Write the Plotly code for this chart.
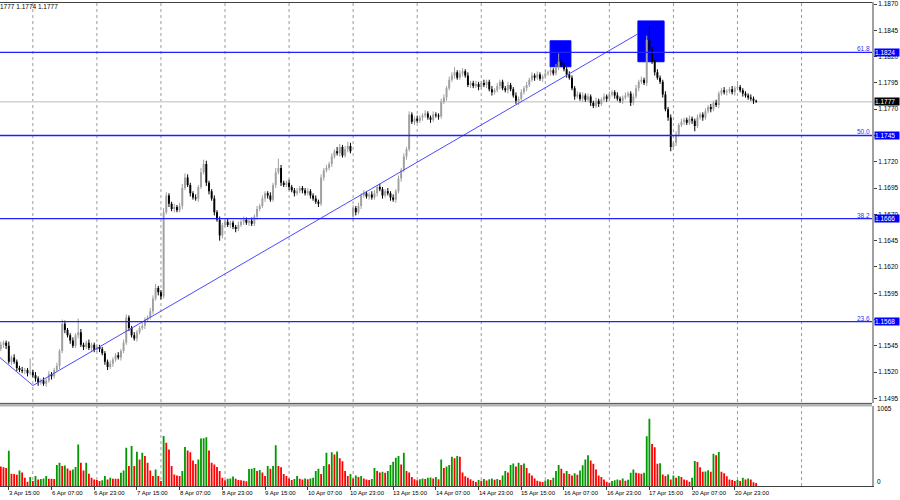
import plotly.graph_objects as go

# ---------------- data ----------------
first_open = 1.1542
closes = [
    1.1546,1.1548,1.1545,1.1530,1.1534,1.1530,1.1524,1.1522,1.1521,1.1522,
    1.1519,1.1520,1.1517,1.1514,1.1510,1.1512,1.1509,1.1512,1.1518,1.1516,
    1.1522,1.1526,1.1540,1.1566,1.1560,1.1555,1.1550,1.1545,1.1555,1.1558,
    1.1546,1.1544,1.1548,1.1543,1.1546,1.1541,1.1544,1.1542,1.1538,1.1530,
    1.1525,1.1528,1.1532,1.1536,1.1534,1.1540,1.1548,1.1572,1.1562,1.1555,
    1.1552,1.1558,1.1562,1.1564,1.1570,1.1572,1.1578,1.1590,1.1600,1.1596,
    1.1592,1.1672,1.1688,1.1680,1.1675,1.1677,1.1674,1.1678,1.1695,1.1705,
    1.1698,1.1690,1.1686,1.1685,1.1696,1.1710,1.1718,1.1700,1.1692,1.1685,
    1.1672,1.1665,1.1650,1.1660,1.1663,1.1660,1.1662,1.1658,1.1656,1.1660,
    1.1663,1.1665,1.1662,1.1664,1.1661,1.1668,1.1675,1.1678,1.1685,1.1690,
    1.1688,1.1684,1.1698,1.1710,1.1714,1.1700,1.1698,1.1700,1.1696,1.1693,
    1.1690,1.1692,1.1695,1.1693,1.1690,1.1692,1.1688,1.1685,1.1682,1.1680,
    1.1705,1.1712,1.1714,1.1718,1.1725,1.1730,1.1728,1.1734,1.1726,1.1732,
    1.1735,1.1730,1.1676,1.1672,1.1678,1.1688,1.1690,1.1687,1.1689,1.1686,
    1.1690,1.1696,1.1694,1.1688,1.1692,1.1690,1.1686,1.1684,1.1692,1.1704,
    1.1712,1.1725,1.1732,1.1765,1.1758,1.1761,1.1759,1.1762,1.1764,1.1766,
    1.1762,1.1760,1.1765,1.1764,1.1763,1.1777,1.1781,1.1790,1.1798,1.1802,
    1.1805,1.1800,1.1804,1.1806,1.1802,1.1793,1.1795,1.1792,1.1794,1.1791,
    1.1795,1.1793,1.1796,1.1789,1.1786,1.1788,1.1792,1.1796,1.1790,1.1788,
    1.1793,1.1789,1.1783,1.1778,1.1780,1.1786,1.1790,1.1793,1.1798,1.1802,
    1.1800,1.1803,1.1799,1.1801,1.1804,1.1805,1.1807,1.1804,1.1810,1.1815,
    1.1812,1.1808,1.1803,1.1800,1.1790,1.1782,1.1784,1.1780,1.1783,1.1779,
    1.1782,1.1776,1.1773,1.1778,1.1775,1.1779,1.1782,1.1780,1.1784,1.1786,
    1.1783,1.1780,1.1778,1.1781,1.1783,1.1785,1.1776,1.1782,1.1790,1.1796,
    1.1798,1.1795,1.1836,1.1826,1.1815,1.1805,1.1800,1.1796,1.1784,1.1770,
    1.1762,1.1734,1.1738,1.1746,1.1755,1.1758,1.1760,1.1757,1.1761,1.1759,
    1.1754,1.1762,1.1765,1.1762,1.1768,1.1772,1.1770,1.1776,1.1774,1.1785,
    1.1788,1.1786,1.1787,1.1789,1.1786,1.1790,1.1791,1.1788,1.1785,1.1783,
    1.1781,1.1780,1.1778,1.1777,
]
gap_opens = {132: 1.1668}
upper_wick_pips = [
    3,2,2,4,2,3,2,2,3,2, 2,13,2,3,2,2,3,2,3,2, 2,3,2,4,3,2,2,3,2,13,
    3,2,2,3,2,2,3,2,2,2, 2,3,2,2,3,2,3,3,2,2, 3,2,2,3,2,2,3,3,4,2,
    2,4,3,2,2,3,2,3,4,4, 3,2,2,3,2,4,4,3,2,2, 3,2,3,2,2,3,2,2,2,3,
    2,3,2,2,3,2,3,2,3,2, 2,3,2,4,9,3,2,2,3,2, 2,3,2,2,2,3,2,2,3,2,
    3,2,3,2,3,2,4,3,2,3, 4,3,3,2,3,2,3,2,2,3, 3,2,3,2,2,3,2,3,2,3,
    2,3,2,3,2,2,3,2,2,3, 2,2,3,2,2,3,3,2,3,3, 5,2,3,3,2,3,2,2,3,2,
    2,3,2,2,3,2,3,2,2,2, 3,2,2,3,2,3,2,3,2,3, 2,3,2,2,3,2,3,2,3,8,
    3,2,2,3,2,2,3,2,3,2, 3,2,2,3,2,2,3,2,3,2, 2,3,2,2,3,2,2,3,3,2,
    3,2,4,14,3,2,3,2,2,3, 2,3,2,3,2,3,2,2,3,2, 2,3,2,2,3,2,3,2,3,2,
    2,3,2,2,3,2,3,2,2,2, 2,3,2,1,
]
lower_wick_pips = [
    2,3,3,2,3,2,3,2,2,3, 3,2,2,3,3,2,2,3,2,3, 2,2,3,2,3,2,3,2,2,3,
    2,3,2,2,3,2,2,3,2,3, 3,2,3,2,2,3,2,2,3,2, 2,3,2,2,3,2,2,3,2,3,
    3,2,2,3,2,3,2,2,3,2, 2,3,2,2,3,2,2,3,3,2, 3,2,5,3,2,2,3,2,3,2,
    2,3,2,3,2,2,3,2,2,3, 3,2,2,3,2,3,2,2,3,2, 3,2,2,3,2,2,3,2,2,3,
    2,3,2,2,3,2,2,3,2,2, 3,2,4,3,2,3,2,2,3,2, 2,3,2,3,2,2,3,2,3,2,
    3,2,3,2,2,3,2,2,3,2, 2,3,2,2,3,2,2,3,2,2, 3,2,2,3,2,2,3,2,2,3,
    2,2,3,2,3,2,2,3,2,2, 3,2,2,3,4,2,2,3,2,2, 3,2,2,3,2,2,3,2,2,3,
    2,2,3,2,2,3,2,2,3,2, 2,3,2,2,3,2,2,3,2,2, 3,2,2,3,2,2,3,2,2,3,
    2,2,3,2,2,3,2,2,3,2, 3,4,2,3,2,2,3,2,2,3, 5,2,2,3,2,2,3,2,2,3,
    2,2,3,2,2,3,2,2,3,2, 2,2,3,1,
]
volumes = [
    260,250,240,470,165,160,150,209,180,111, 58,120,67,133,89,95,100,133,98,96,
    94,280,311,267,275,236,209,222,254,556, 311,209,311,164,111,89,80,67,76,133,
    89,111,98,97,96,178,209,512,267,534, 267,458,356,445,400,311,209,133,222,133,
    67,667,578,489,267,156,142,133,200,520, 476,453,342,294,355,634,640,652,475,310,
    288,253,200,111,76,98,100,129,98,80, 76,70,65,227,230,240,200,213,180,133,
    267,230,267,546,267,250,160,133,100,80, 95,133,98,89,100,90,100,110,200,230,
    160,267,445,290,453,420,460,370,330,200, 133,160,100,140,120,133,100,89,80,95,
    240,200,180,190,177,200,280,324,377,400, 288,445,200,180,120,90,76,90,100,95,
    110,115,100,120,90,355,240,260,280,390, 370,400,390,180,130,110,90,70,55,80,
    70,95,75,90,100,85,95,80,140,200, 180,280,300,260,310,280,300,240,170,140,
    100,70,60,55,75,90,80,110,200,280, 230,170,200,160,140,170,150,209,279,355,
    412,342,297,222,142,120,89,57,44,67, 76,89,76,102,70,85,177,222,177,170,
    165,177,665,900,563,519,297,306,156,133, 156,89,142,110,133,120,89,76,57,110,
    333,320,250,190,195,210,190,430,410,456, 190,170,130,89,80,67,80,67,110,89,
    100,89,50,40,
]
tick_idx = [3, 19, 35, 51, 67, 83, 99, 115, 131, 147, 163, 179, 195, 211, 227, 243, 259, 275]
tick_labels = ["3 Apr 15:00", "6 Apr 07:00", "6 Apr 23:00", "7 Apr 15:00", "8 Apr 07:00",
               "8 Apr 23:00", "9 Apr 15:00", "10 Apr 07:00", "10 Apr 23:00", "13 Apr 15:00",
               "14 Apr 07:00", "14 Apr 23:00", "15 Apr 15:00", "16 Apr 07:00", "16 Apr 23:00",
               "17 Apr 15:00", "20 Apr 07:00", "20 Apr 23:00"]
day_starts = [12, 36, 60, 84, 108, 132, 156, 180, 204, 228, 252, 276, 300]
price_ticks = [1.1495, 1.1520, 1.1545, 1.1570, 1.1595, 1.1620, 1.1645, 1.1670,
               1.1695, 1.1720, 1.1745, 1.1770, 1.1795, 1.1820, 1.1845, 1.1870]
hidden_price_ticks = [1.1570, 1.1745]   # fully covered by the level boxes
fib_levels = [1.1824, 1.1745, 1.1666, 1.1568]
fib_names = ["61.8", "50.0", "38.2", "23.6"]
current_price = 1.1777
header_text = "1777 1.1774 1.1777"
vol_max_label = "1065"
trend_x = [-0.3, 12.06, 238.7]
trend_y = [1.15338, 1.15073, 1.18416]
boxes = [(205.8, 213.6, 1.18103, 1.18350), (238.7, 248.5, 1.18151, 1.18539)]

# ---------------- derived ----------------
n = len(closes)
xs = list(range(n))
opens = [first_open] + closes[:-1]
for k, v in gap_opens.items():
    opens[k] = v
highs = [max(o, c) + h / 10000 for o, c, h in zip(opens, closes, upper_wick_pips)]
lows = [min(o, c) - l / 10000 for o, c, l in zip(opens, closes, lower_wick_pips)]
vol_colors = ["#ff0000"] + ["#009a00" if volumes[i] > volumes[i - 1] else "#ff0000" for i in range(1, n)]

BULL = "#a0a0a0"
BEAR = "#000000"
up = [c > o for o, c in zip(opens, closes)]
body_base = [min(o, c) for o, c in zip(opens, closes)]
body_h = [max(abs(c - o), 0.0001) for o, c in zip(opens, closes)]
body_col = [BULL if u else BEAR for u in up]


def wick_xy(sel):
    wx, wy = [], []
    for i in range(n):
        if up[i] == sel:
            wx += [i, i, None]
            wy += [lows[i], highs[i], None]
    return wx, wy


FONT = "Liberation Sans"
XR = 872 / 900
P_BOT, P_TOP = 97 / 500, 1.0
V_BOT, V_TOP = 14 / 500, 94 / 500

fig = go.Figure()
fig.add_trace(go.Bar(x=xs, y=volumes, width=0.68, marker=dict(color=vol_colors, line=dict(width=0)),
                     xaxis="x", yaxis="y2", hoverinfo="skip"))
for sel, col in ((True, BULL), (False, BEAR)):
    wx, wy = wick_xy(sel)
    fig.add_trace(go.Scatter(x=wx, y=wy, mode="lines", line=dict(color=col, width=1),
                             xaxis="x", yaxis="y", hoverinfo="skip"))
fig.add_trace(go.Bar(x=xs, y=body_h, base=body_base, width=0.72,
                     marker=dict(color=body_col, line=dict(width=0)),
                     xaxis="x", yaxis="y", hoverinfo="skip"))
fig.add_trace(go.Scatter(x=trend_x, y=trend_y, mode="lines", line=dict(color="#4a4aff", width=1),
                         xaxis="x", yaxis="y", hoverinfo="skip"))

shapes = []
for d in day_starts:
    shapes.append(dict(type="line", xref="x", yref="paper", x0=d, x1=d, y0=V_BOT, y1=P_TOP,
                       line=dict(color="#9a9a9a", width=1, dash="dot"), layer="below"))
shapes.append(dict(type="line", xref="paper", yref="y", x0=0, x1=XR, y0=current_price, y1=current_price,
                   line=dict(color="#d2d2d2", width=1.5), layer="below"))
for (x0, x1, y0, y1) in boxes:
    shapes.append(dict(type="rect", xref="x", yref="y", x0=x0, x1=x1, y0=y0, y1=y1,
                       fillcolor="#0000ff", line=dict(color="#0000ff", width=1), layer="below"))
for lv in fib_levels:
    shapes.append(dict(type="line", xref="paper", yref="y", x0=0, x1=XR, y0=lv, y1=lv,
                       line=dict(color="#2020ff", width=1.4)))
shapes.append(dict(type="rect", xref="paper", yref="paper", x0=0, x1=XR, y0=V_TOP, y1=P_BOT,
                   fillcolor="#b4b4b4", line=dict(width=0)))
shapes.append(dict(type="line", xref="paper", yref="paper", x0=0, x1=XR, y0=P_BOT, y1=P_BOT,
                   line=dict(color="#505050", width=1)))
shapes.append(dict(type="line", xref="paper", yref="paper", x0=0, x1=XR, y0=0.999, y1=0.999,
                   line=dict(color="#404040", width=1)))

annotations = []
for i, t in zip(tick_idx, tick_labels):
    annotations.append(dict(x=i, xref="x", y=7 / 500, yref="paper", text=t, showarrow=False,
                            xanchor="left", yanchor="middle", xshift=-2,
                            font=dict(family=FONT, size=6, color="#000000")))
for lv, nm in zip(fib_levels, fib_names):
    annotations.append(dict(x=XR, xref="paper", y=lv, yref="y", text=nm, showarrow=False,
                            xanchor="right", yanchor="bottom", yshift=-2,
                            font=dict(family=FONT, size=6.5, color="#3030ff")))
    annotations.append(dict(x=874 / 900, xref="paper", y=lv, yref="y", text=f"{lv:.4f}", showarrow=False,
                            xanchor="left", yanchor="middle", width=24, height=7, align="left",
                            bgcolor="#0000ff", borderpad=0,
                            font=dict(family=FONT, size=6.5, color="#ffffff")))
annotations.append(dict(x=874 / 900, xref="paper", y=current_price, yref="y", text=f"{current_price:.4f}",
                        showarrow=False, xanchor="left", yanchor="middle", width=24, height=7, align="left",
                        bgcolor="#000000", borderpad=0, font=dict(family=FONT, size=6.5, color="#ffffff")))
annotations.append(dict(x=875 / 900, xref="paper", y=92 / 500, yref="paper", text=vol_max_label, showarrow=False,
                        xanchor="left", yanchor="middle", font=dict(family=FONT, size=6.5, color="#000000")))
annotations.append(dict(x=875 / 900, xref="paper", y=19 / 500, yref="paper", text="0", showarrow=False,
                        xanchor="left", yanchor="middle", font=dict(family=FONT, size=6.5, color="#000000")))
annotations.append(dict(x=0, xref="paper", y=1, yref="paper", text=header_text, showarrow=False,
                        xanchor="left", yanchor="top", xshift=-2, yshift=1,
                        font=dict(family=FONT, size=6.5, color="#000000")))

fig.update_layout(
    width=900, height=500, margin=dict(l=0, r=0, t=0, b=0),
    paper_bgcolor="white", plot_bgcolor="white", showlegend=False, barmode="overlay",
    hovermode=False,
    xaxis=dict(domain=[0, XR], range=[-0.3, 326.4], anchor="y2", showgrid=False, zeroline=False,
               showline=True, linecolor="#404040", linewidth=1, ticks="outside", ticklen=3,
               tickcolor="#404040", tickvals=tick_idx, showticklabels=False, fixedrange=True),
    yaxis=dict(domain=[P_BOT, P_TOP], range=[1.14903, 1.18719], side="right", anchor="x",
               showgrid=False, zeroline=False, showline=True, linecolor="#a0a0a0", linewidth=2,
               ticks="outside", ticklen=3, tickcolor="#404040", tickvals=price_ticks,
               ticktext=["" if v in hidden_price_ticks else f"{v:.4f}" for v in price_ticks],
               ticklabeloverflow="allow",
               tickfont=dict(family=FONT, size=6.5, color="#000000"), fixedrange=True),
    yaxis2=dict(domain=[V_BOT, V_TOP], range=[0, 1064], side="right", anchor="x",
                showgrid=False, zeroline=False, showline=True, linecolor="#a0a0a0", linewidth=2,
                showticklabels=False, fixedrange=True),
    shapes=shapes, annotations=annotations,
)
fig.write_html("out.html", config={"displayModeBar": False, "staticPlot": True},
               post_script="document.body.style.margin='0';document.body.style.overflow='hidden';")
